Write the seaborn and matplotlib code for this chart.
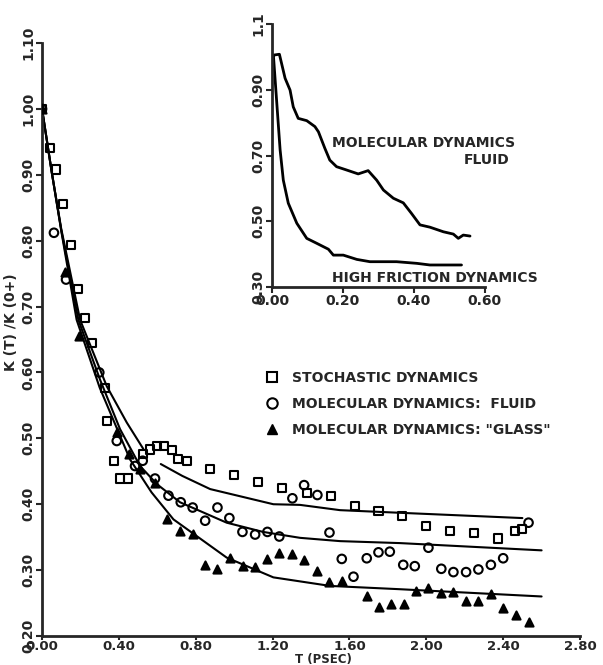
import numpy as np
import pandas as pd
import matplotlib
matplotlib.use("Agg")
import matplotlib.pyplot as plt
import seaborn as sns

# ---------------- data ----------------
stoch_t = [0.0, 0.04, 0.075, 0.109, 0.149, 0.186, 0.224, 0.259, 0.328, 0.337, 0.375, 0.406, 0.449,
           0.524, 0.562, 0.597, 0.635, 0.675, 0.71, 0.753, 0.875, 1.001, 1.126, 1.251, 1.378,
           1.503, 1.629, 1.751, 1.872, 1.999, 2.124, 2.249, 2.375, 2.462, 2.497]
stoch_v = [1.0, 0.94, 0.908, 0.856, 0.794, 0.726, 0.682, 0.645, 0.576, 0.526, 0.466, 0.439, 0.439,
           0.476, 0.483, 0.489, 0.489, 0.482, 0.468, 0.465, 0.453, 0.444, 0.434, 0.425, 0.417,
           0.412, 0.397, 0.39, 0.382, 0.367, 0.36, 0.356, 0.348, 0.36, 0.362]

fluid_t = [0.0, 0.062, 0.125, 0.298, 0.389, 0.484, 0.524, 0.588, 0.658, 0.722, 0.784, 0.849,
           0.913, 0.975, 1.043, 1.109, 1.173, 1.235, 1.303, 1.364, 1.433, 1.496, 1.56, 1.621,
           1.69, 1.751, 1.81, 1.88, 1.94, 2.011, 2.078, 2.141, 2.207, 2.271, 2.336, 2.4, 2.532]
fluid_v = [1.0, 0.812, 0.741, 0.60, 0.496, 0.458, 0.466, 0.439, 0.413, 0.403, 0.395, 0.375,
           0.395, 0.379, 0.358, 0.354, 0.358, 0.351, 0.409, 0.429, 0.414, 0.357, 0.317, 0.29,
           0.318, 0.327, 0.328, 0.308, 0.306, 0.334, 0.302, 0.297, 0.297, 0.301, 0.308, 0.318, 0.372]

glass_t = [0.0, 0.12, 0.194, 0.389, 0.455, 0.51, 0.588, 0.652, 0.718, 0.784, 0.849, 0.913,
           0.979, 1.045, 1.109, 1.173, 1.235, 1.303, 1.366, 1.43, 1.496, 1.56, 1.69, 1.754,
           1.817, 1.884, 1.945, 2.011, 2.078, 2.141, 2.207, 2.271, 2.336, 2.401, 2.469, 2.535]
glass_v = [1.0, 0.753, 0.655, 0.509, 0.476, 0.453, 0.432, 0.377, 0.359, 0.355, 0.308, 0.301,
           0.319, 0.307, 0.305, 0.317, 0.326, 0.324, 0.315, 0.298, 0.282, 0.283, 0.26, 0.244,
           0.248, 0.248, 0.269, 0.273, 0.266, 0.267, 0.253, 0.253, 0.264, 0.243, 0.232, 0.221]

# fitted curves
fit_st_short_t = [0.0, 0.05, 0.1, 0.198, 0.337, 0.441, 0.527]
fit_st_short_v = [1.0, 0.905, 0.818, 0.680, 0.579, 0.524, 0.484]
fit_st_long_t = [0.618, 0.73, 0.875, 1.204, 1.343, 1.551, 1.864, 2.5]
fit_st_long_v = [0.461, 0.443, 0.423, 0.400, 0.399, 0.391, 0.387, 0.379]
fit_fl_t = [0.0, 0.05, 0.1, 0.189, 0.302, 0.406, 0.51, 0.6, 0.718, 0.961, 1.15, 1.343, 1.551, 1.864, 2.6]
fit_fl_v = [1.0, 0.905, 0.816, 0.680, 0.589, 0.514, 0.458, 0.43, 0.403, 0.372, 0.358, 0.349, 0.344, 0.341, 0.330]
fit_gl_t = [0.0, 0.05, 0.1, 0.18, 0.3, 0.458, 0.57, 0.684, 0.961, 1.204, 1.5, 1.864, 2.6]
fit_gl_v = [1.0, 0.905, 0.815, 0.680, 0.577, 0.468, 0.418, 0.377, 0.319, 0.289, 0.276, 0.271, 0.260]

# inset curves
md_t = [0.0, 0.008, 0.021, 0.037, 0.051, 0.06, 0.074, 0.098, 0.121, 0.131, 0.149, 0.163, 0.182,
        0.21, 0.243, 0.271, 0.295, 0.314, 0.342, 0.37, 0.393, 0.417, 0.445, 0.483, 0.511,
        0.525, 0.539, 0.558]
md_v = [1.0, 1.006, 1.008, 0.935, 0.899, 0.848, 0.813, 0.806, 0.788, 0.772, 0.722, 0.686, 0.666,
        0.656, 0.644, 0.654, 0.625, 0.595, 0.57, 0.556, 0.524, 0.489, 0.482, 0.468, 0.461,
        0.448, 0.458, 0.455]
hf_t = [0.0, 0.004, 0.013, 0.023, 0.032, 0.046, 0.07, 0.098, 0.126, 0.159, 0.173, 0.201,
        0.239, 0.276, 0.351, 0.408, 0.445, 0.534]
hf_v = [1.0, 1.006, 0.869, 0.717, 0.625, 0.555, 0.494, 0.448, 0.433, 0.415, 0.397, 0.397,
        0.384, 0.377, 0.377, 0.372, 0.367, 0.367]

x_ticks = [0.0, 0.4, 0.8, 1.2, 1.6, 2.0, 2.4, 2.8]
y_ticks = [0.2, 0.3, 0.4, 0.5, 0.6, 0.7, 0.8, 0.9, 1.0, 1.1]
in_x_ticks = [0.0, 0.2, 0.4, 0.6]
in_y_ticks = [0.3, 0.5, 0.7, 0.9, 1.1]
in_y_labels = ["0.30", "0.50", "0.70", "0.90", "1.1"]

legend_labels = ["STOCHASTIC DYNAMICS", "MOLECULAR DYNAMICS:  FLUID", 'MOLECULAR DYNAMICS: "GLASS"']

# ---------------- plotting ----------------
sns.set_style("ticks")
plt.rcParams['font.family'] = ['DejaVu Sans']
plt.rcParams['font.weight'] = 'bold'
FS = 10

fig = plt.figure(figsize=(6.03, 6.65), dpi=100)
ax = fig.add_axes([0.0697, 0.0436, 0.8922, 0.8917])

def curve(ax, t, v, lw=1.5):
    df = pd.DataFrame({"t": t, "v": v})
    sns.lineplot(data=df, x="t", y="v", ax=ax, color="black", lw=lw, sort=False,
                 estimator=None)

curve(ax, fit_st_short_t, fit_st_short_v)
curve(ax, fit_st_long_t, fit_st_long_v)
curve(ax, fit_fl_t, fit_fl_v)
curve(ax, fit_gl_t, fit_gl_v)

def pts(ax, t, v, marker, s, filled):
    df = pd.DataFrame({"t": t, "v": v})
    sns.scatterplot(data=df, x="t", y="v", ax=ax, marker=marker, s=s, color="black",
                    linewidth=1.5, zorder=3)
    coll = ax.collections[-1]
    if not filled:
        coll.set_facecolor("none")
    coll.set_edgecolor("black")
    return coll

h1 = pts(ax, stoch_t, stoch_v, "s", 34, False)
h2 = pts(ax, fluid_t, fluid_v, "o", 38, False)
h3 = pts(ax, glass_t, glass_v, "^", 34, True)

ax.set_xlim(0, 2.8)
ax.set_ylim(0.2, 1.1)
ax.set_xticks(x_ticks)
ax.set_xticklabels([f"{x:.2f}" for x in x_ticks], fontsize=9.5, fontweight="bold")
ax.set_yticks(y_ticks)
ax.set_yticklabels([f"{y:.2f}" for y in y_ticks], fontsize=FS, fontweight="bold",
                   rotation=90, va="center")
for s in ["top", "right"]:
    ax.spines[s].set_visible(False)
for s in ["left", "bottom"]:
    ax.spines[s].set_linewidth(2)
ax.tick_params(direction="out", length=4, width=1.5, pad=1)
ax.tick_params(axis="x", length=3, pad=0)
ax.set_xlabel("")
fig.text(323 / 603, 1 - 659 / 665, "T (PSEC)", fontsize=8.5, fontweight="bold",
         ha="center", va="center")
ax.set_ylabel("K (T) /K (0+)", fontsize=FS, fontweight="bold")
ax.yaxis.set_label_coords(-0.045, 0.53)

from matplotlib.lines import Line2D
handles = [Line2D([], [], ls="none", marker="s", mfc="none", mec="black", mew=1.5, ms=7),
           Line2D([], [], ls="none", marker="o", mfc="none", mec="black", mew=1.5, ms=7.5),
           Line2D([], [], ls="none", marker="^", mfc="black", mec="black", ms=7)]
leg = ax.legend(handles, legend_labels, loc="upper left", bbox_to_anchor=(0.415, 0.447),
                frameon=False, handlelength=1.0, handletextpad=0.9, labelspacing=0.85,
                prop={"size": FS, "weight": "bold"}, borderaxespad=0, borderpad=0)

# ---------------- inset ----------------
ins = fig.add_axes([0.451, 0.5684, 0.3532, 0.3955])
curve(ins, md_t, md_v, lw=2)
curve(ins, hf_t, hf_v, lw=2)
ins.set_xlim(0, 0.6)
ins.set_ylim(0.3, 1.1)
ins.set_xticks(in_x_ticks)
ins.set_xticklabels([f"{x:.2f}" for x in in_x_ticks], fontsize=FS, fontweight="bold")
ins.set_yticks(in_y_ticks)
ins.set_yticklabels(in_y_labels, fontsize=FS, fontweight="bold", rotation=90, va="center")
for s in ["top", "right"]:
    ins.spines[s].set_visible(False)
for s in ["left", "bottom"]:
    ins.spines[s].set_linewidth(2)
ins.tick_params(direction="out", length=4, width=1.5, pad=1)
ins.set_xlabel("")
ins.set_ylabel("")
ins.patch.set_alpha(0)
ins.text(0.168, 0.738, "MOLECULAR DYNAMICS", fontsize=FS, fontweight="bold", va="center", ha="left")
ins.text(0.670, 0.686, "FLUID", fontsize=FS, fontweight="bold", va="center", ha="right")
ins.text(0.168, 0.327, "HIGH FRICTION DYNAMICS", fontsize=FS, fontweight="bold",
         va="center", ha="left", clip_on=False)

fig.savefig("out.png", dpi=100)
